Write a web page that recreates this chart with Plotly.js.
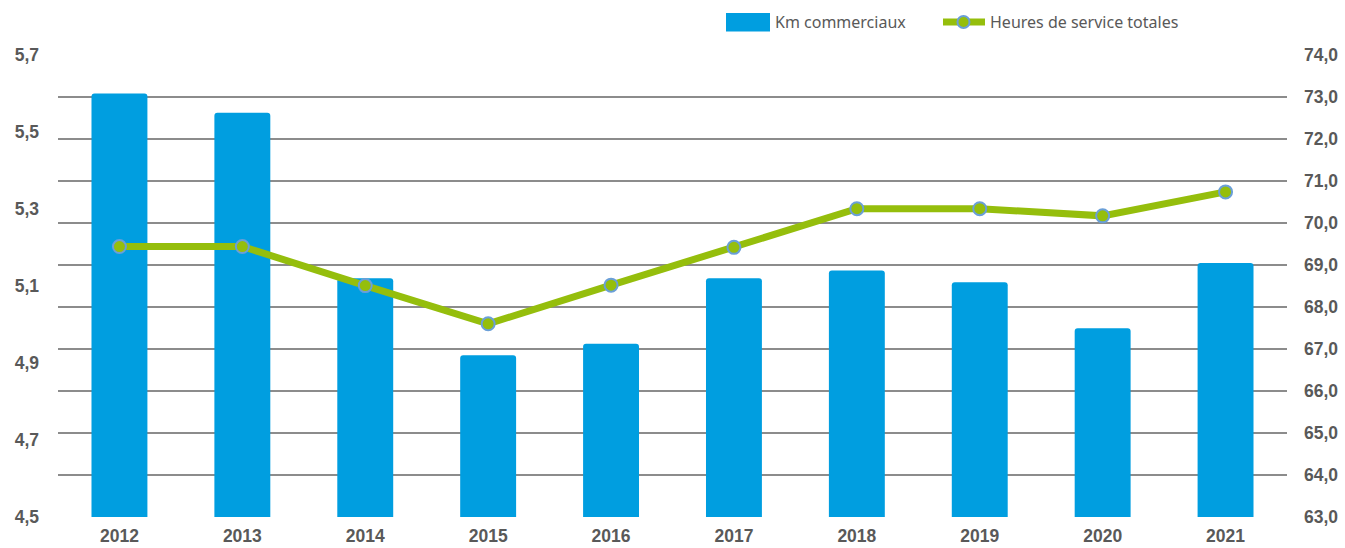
<!DOCTYPE html>
<html>
<head>
<meta charset="utf-8">
<script src="https://cdn.plot.ly/plotly-3.0.1.min.js"></script>
<style>html,body{margin:0;padding:0;background:#fff;}#chart{width:1345px;height:548px;}</style>
</head>
<body>
<div id="chart"></div>
<script>
// Data
const years = ['2012','2013','2014','2015','2016','2017','2018','2019','2020','2021'];
const kmCommerciaux = [5.60, 5.55, 5.12, 4.92, 4.95, 5.12, 5.14, 5.11, 4.99, 5.16];
const heuresService = [69.44, 69.44, 68.51, 67.60, 68.52, 69.42, 70.34, 70.34, 70.17, 70.74];
const seriesNames = ['Km commerciaux', 'Heures de service totales'];

const W = 1345, H = 548;
const mL = 58, mR = 58, mT = 55, mB = 31;
const pw = W - mL - mR, ph = H - mT - mB;
const px = x => (x - mL) / pw;
const py = y => (H - mB - y) / ph;

const tickFont = {family: 'Liberation Sans, Arial, sans-serif', size: 17.5, color: '#595959', weight: 'bold'};
const legFont = {family: 'Noto Sans, sans-serif', size: 16, color: '#595959'};

const traces = [
  {
    type: 'bar', x: years, y: kmCommerciaux, name: seriesNames[0],
    marker: {color: '#009EE0', line: {width: 0}},
    yaxis: 'y', showlegend: false, hoverinfo: 'x+y'
  },
  {
    type: 'scatter', mode: 'lines+markers', x: years, y: heuresService, name: seriesNames[1],
    line: {color: '#95BE0C', width: 7},
    marker: {size: 13, color: '#95BE0C', line: {color: '#6A9FD8', width: 2}},
    yaxis: 'y2', showlegend: false, hoverinfo: 'x+y'
  }
];

const layout = {
  width: W, height: H,
  margin: {l: mL, r: mR, t: mT, b: mB, pad: 0},
  paper_bgcolor: '#fff', plot_bgcolor: 'rgba(0,0,0,0)',
  separators: ', ',
  bargap: 0.545,
  barcornerradius: 3,
  showlegend: false,
  xaxis: {
    type: 'category', range: [-0.5, years.length - 0.5], autorange: false,
    tickfont: tickFont, showgrid: false, zeroline: false,
    showline: false, ticks: '', ticklabelstandoff: 6, fixedrange: true, automargin: false
  },
  yaxis: {
    range: [4.5, 5.7], dtick: 0.2, tick0: 4.5, tickformat: '.1f',
    showgrid: false, zeroline: false, showline: false, ticks: '',
    tickfont: tickFont, ticklabelstandoff: 18, fixedrange: true, automargin: false
  },
  yaxis2: {
    overlaying: 'y', side: 'right', range: [63, 74], dtick: 1, tick0: 63, tickformat: '.1f',
    showgrid: true, gridcolor: '#8C8C8C', gridwidth: 1.6, zeroline: false, showline: false,
    ticks: '', tickfont: tickFont, ticklabelstandoff: 16, fixedrange: true, automargin: false
  },
  shapes: [
    {type: 'rect', xref: 'paper', yref: 'paper', x0: px(726), x1: px(770), y0: py(31.5), y1: py(13),
     fillcolor: '#009EE0', line: {width: 0}},
    {type: 'line', xref: 'paper', yref: 'paper', x0: px(943), x1: px(985), y0: py(22), y1: py(22),
     line: {color: '#95BE0C', width: 7}},
    {type: 'circle', xref: 'paper', yref: 'paper', x0: px(957.5), x1: px(969.5), y0: py(28), y1: py(16),
     fillcolor: '#95BE0C', line: {color: '#6A9FD8', width: 2}}
  ],
  annotations: [
    {xref: 'paper', yref: 'paper', x: px(773), y: py(22), xanchor: 'left', yanchor: 'middle',
     text: seriesNames[0], showarrow: false, font: legFont},
    {xref: 'paper', yref: 'paper', x: px(988), y: py(22), xanchor: 'left', yanchor: 'middle',
     text: seriesNames[1], showarrow: false, font: legFont}
  ]
};

Plotly.newPlot('chart', traces, layout, {displayModeBar: false, staticPlot: true});
</script>
</body>
</html>
